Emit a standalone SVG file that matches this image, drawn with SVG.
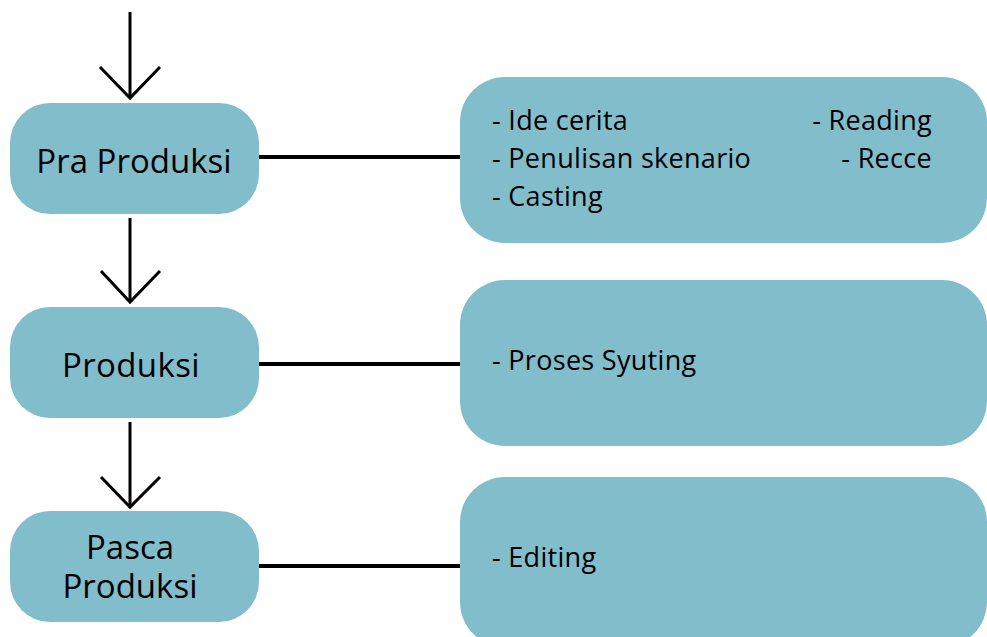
<svg xmlns="http://www.w3.org/2000/svg" width="987" height="637" viewBox="0 0 987 637">
<style>
.box{fill:#82bdcc}
.t{font-family:"Open Sans","Noto Sans",sans-serif;fill:#000}
.main{font-size:33px;text-anchor:middle}
.item{font-size:27px;letter-spacing:0.3px}
.ln{stroke:#000;stroke-width:4;fill:none}
.ar{stroke:#000;stroke-width:3;fill:none}
</style>
<g id="connectors">
<line class="ar" x1="130" y1="12" x2="130" y2="98"/>
<polyline class="ar" points="100,67 130,98 160,67"/>
<line class="ar" x1="130" y1="218" x2="130" y2="302"/>
<polyline class="ar" points="101,271 130,302 160,271"/>
<line class="ar" x1="130" y1="422" x2="130" y2="507"/>
<polyline class="ar" points="101,477 130,507 160,477"/>
<line class="ln" x1="259" y1="157" x2="461" y2="157"/>
<line class="ln" x1="259" y1="364" x2="461" y2="364"/>
<line class="ln" x1="259" y1="566" x2="461" y2="566"/>
</g>
<g id="pra-produksi">
<rect class="box" x="10" y="103" width="249" height="111" rx="40"/>
<text class="t main" x="134" y="173">Pra Produksi</text>
</g>
<g id="produksi">
<rect class="box" x="10" y="307" width="249" height="111" rx="40"/>
<text class="t main" x="131" y="377" style="letter-spacing:0.4px">Produksi</text>
</g>
<g id="pasca-produksi">
<rect class="box" x="10" y="511" width="249" height="111" rx="40"/>
<text class="t main" x="130" y="559">Pasca</text>
<text class="t main" x="130" y="598">Produksi</text>
</g>
<g id="detail-pra">
<rect class="box" x="460" y="77" width="527" height="166" rx="45"/>
<text class="t item" x="492" y="130">- Ide cerita</text>
<text class="t item" x="492" y="168">- Penulisan skenario</text>
<text class="t item" x="492" y="206">- Casting</text>
<text class="t item" x="932" y="130" text-anchor="end">- Reading</text>
<text class="t item" x="932" y="168" text-anchor="end">- Recce</text>
</g>
<g id="detail-produksi">
<rect class="box" x="460" y="280" width="527" height="166" rx="45"/>
<text class="t item" x="492" y="370">- Proses Syuting</text>
</g>
<g id="detail-pasca">
<rect class="box" x="460" y="477" width="527" height="170" rx="45"/>
<text class="t item" x="492" y="567">- Editing</text>
</g>
</svg>
